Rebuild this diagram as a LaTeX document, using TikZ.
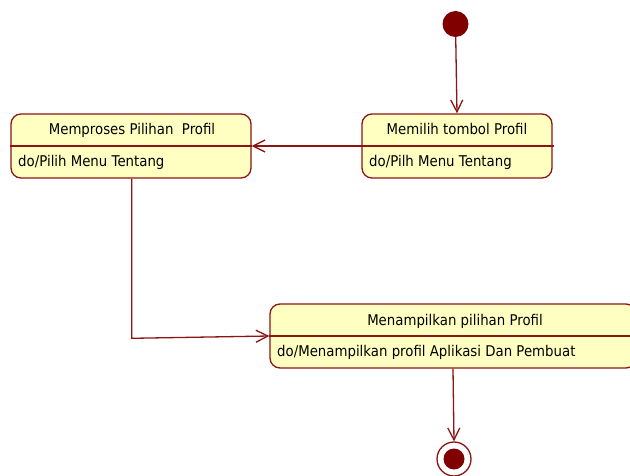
\documentclass[tikz,border=0pt]{standalone}
\usepackage{fontspec}
\setmainfont[FakeStretch=0.9]{DejaVu Sans}
\usetikzlibrary{arrows.meta}
\definecolor{umlline}{RGB}{140,20,20}
\definecolor{umldot}{RGB}{128,0,0}
\definecolor{umlfill}{RGB}{255,255,194}
\begin{document}
\begin{tikzpicture}[x=1pt,y=-1pt,
  state/.style={draw=umlline, fill=umlfill, line width=1.3pt, rounded corners=10pt,
    minimum height=64pt, inner sep=0pt},
  divider/.style={draw=umlline, line width=1.3pt},
  title/.style={font=\fontsize{14.8}{17}\selectfont, inner sep=0pt, anchor=base},
  act/.style={font=\fontsize{14.8}{17}\selectfont, inner sep=0pt, anchor=base west},
  flow/.style={draw=umlline, line width=1.3pt, -{Straight Barb[length=12pt,width=12pt]}},
]
\useasboundingbox (0,0) rectangle (630,476);
\clip (0,0) rectangle (630,476);

% initial and final pseudo-states
\node[circle, fill=umldot, minimum size=26pt, inner sep=0pt] (init) at (455.5,24) {};
\node[circle, draw=umlline, fill=white, line width=1.3pt, minimum size=34pt, inner sep=0pt] (fin) at (454,459) {};
\node[circle, fill=umldot, minimum size=21pt, inner sep=0pt] (findot) at (fin.center) {};

% states
\node[state, minimum width=240pt] (m1) at (131,146) {};
\draw[divider] (m1.west) -- (m1.east);
\node[title] (t1) at (132,135) {Memproses Pilihan\ \ Profil};
\node[act] (a1) at (18,166.5) {do/Pilih Menu Tentang};

\node[state, minimum width=190pt] (m2) at (457,146) {};
\draw[divider] (m2.west) -- ([xshift=1pt]m2.east);
\node[title] (t2) at (457,135) {Memilih tombol Profil};
\node[act] (a2) at (369,166.5) {do/Pilh Menu Tentang};

\node[state, minimum width=366pt] (m3) at (453,336) {};
\draw[divider] (m3.west) -- (m3.east);
\node[title] (t3) at (455,325) {Menampilkan pilihan Profil};
\node[act] (a3) at (277,356.5) {do/Menampilkan profil Aplikasi Dan Pembuat};

% transitions
\coordinate (bend) at (131.7,338.3);
\draw[flow] (init) -- (m2.north);
\draw[flow] (m2.west) -- (m1.east);
\draw[flow] (m1.south -| bend) -- (bend) -- (m3.west);
\draw[flow] (m3.south) -- (fin.north);
\end{tikzpicture}
\end{document}
